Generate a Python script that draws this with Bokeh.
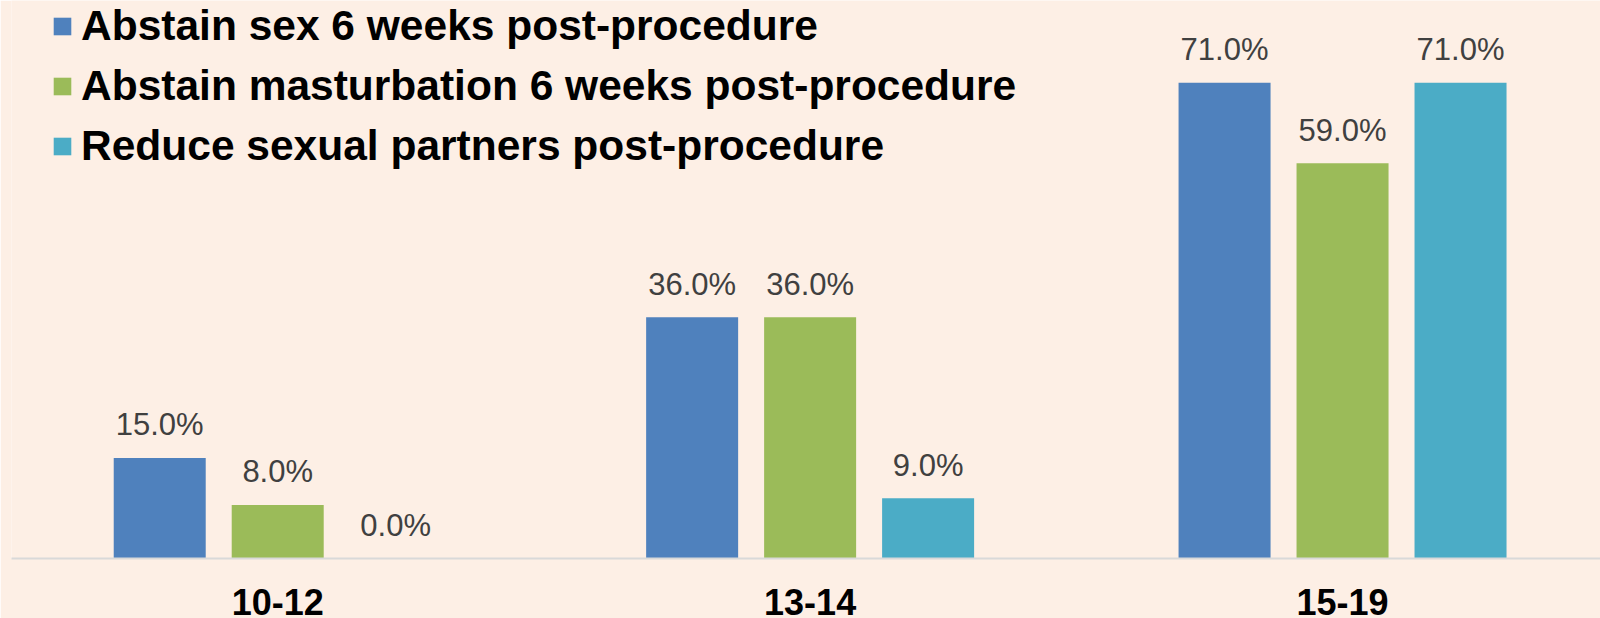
from bokeh.plotting import figure
from bokeh.models import ColumnDataSource, Range1d, FixedTicker, Legend, LegendItem
from bokeh.embed import file_html
from bokeh.resources import INLINE
from bokeh.core.properties import value

groups = ["10-12", "13-14", "15-19"]
series = [
    "Abstain sex 6 weeks post-procedure",
    "Abstain masturbation 6 weeks post-procedure",
    "Reduce sexual partners post-procedure",
]
abstain_sex = [15.0, 36.0, 71.0]
abstain_mast = [8.0, 36.0, 59.0]
reduce_partners = [0.0, 9.0, 71.0]
colors = ["#4F81BD", "#9BBB59", "#4BACC6"]

BG = "#FDEFE5"
offsets = [-0.2216, 0.0, 0.2216]
bar_w = 0.1728

p = figure(width=1600, height=618, output_backend="svg", toolbar_location=None,
           x_range=Range1d(-0.5, 2.4845), y_range=Range1d(0, 83.28),
           min_border_left=11, min_border_right=0, min_border_top=0, min_border_bottom=60)
p.background_fill_color = BG
p.border_fill_color = BG
p.outline_line_color = None
p.grid.visible = False
p.yaxis.visible = False

xs = list(range(len(groups)))
items = []
for vals, name, col, off in zip([abstain_sex, abstain_mast, reduce_partners], series, colors, offsets):
    src = ColumnDataSource(dict(x=[x + off for x in xs], top=vals,
                                lab=[f"{v:.1f}%" for v in vals]))
    r = p.vbar(x="x", top="top", width=bar_w, bottom=0, source=src,
               fill_color=col, line_color=None)
    p.text(x="x", y="top", text="lab", source=src, text_align="center",
           text_baseline="alphabetic", y_offset=-33, text_color="#404040",
           text_font=value("Liberation Sans"), text_font_size="31px")
    items.append(LegendItem(label=name, renderers=[r]))

ax = p.xaxis[0]
ax.ticker = FixedTicker(ticks=xs)
ax.major_label_overrides = {i: g for i, g in enumerate(groups)}
ax.major_tick_line_color = None
ax.minor_tick_line_color = None
ax.axis_line_color = "#D9D9D9"
ax.axis_line_width = 2
ax.major_label_text_font = "Liberation Sans"
ax.major_label_text_font_style = "bold"
ax.major_label_text_font_size = "36px"
ax.major_label_text_color = "#000000"
ax.major_label_standoff = 24

legend = Legend(items=items, orientation="vertical",
                label_text_font="Liberation Sans", label_text_font_style="bold",
                label_text_font_size="42.5px", label_text_color="#000000",
                glyph_width=22, glyph_height=22, label_standoff=8,
                label_height=50, spacing=10, padding=0, margin=0,
                background_fill_alpha=0, border_line_color=None,
                location=(40, 387))
p.add_layout(legend)

open("out.html", "w").write(file_html(p, INLINE))
